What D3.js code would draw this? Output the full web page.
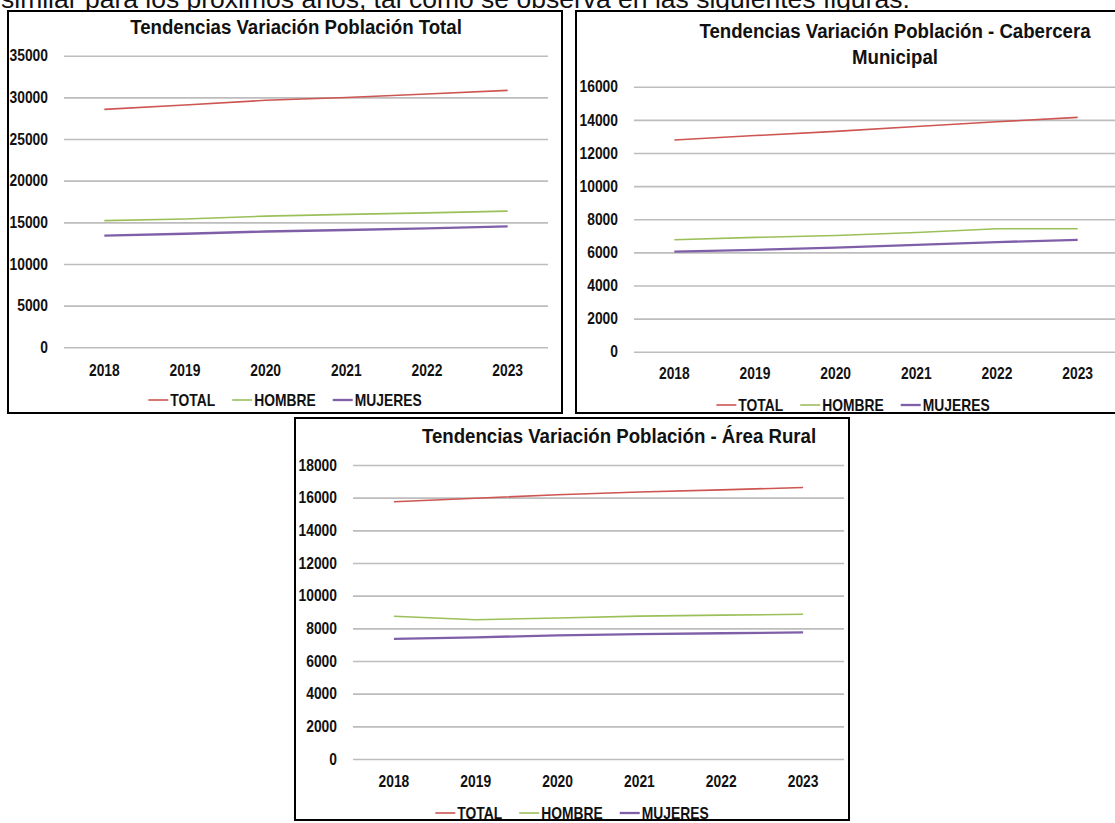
<!DOCTYPE html>
<html>
<head>
<meta charset="utf-8">
<script src="https://cdn.jsdelivr.net/npm/d3@7"></script>
<style>
  body { margin: 0; background: #fff; }
  svg { display: block; font-family: "Liberation Sans", Arial, sans-serif; }
</style>
</head>
<body>
<script>
/* Data. */
const years = ["2018", "2019", "2020", "2021", "2022", "2023"]
const seriesNames = ["TOTAL", "HOMBRE", "MUJERES"]

const totalGeneral = [28560, 29080, 29650, 29980, 30400, 30840]
const hombreGeneral = [15200, 15400, 15750, 15950, 16130, 16350]
const mujeresGeneral = [13400, 13630, 13900, 14080, 14280, 14520]

const totalCabecera = [12780, 13050, 13300, 13600, 13880, 14150]
const hombreCabecera = [6760, 6900, 7020, 7200, 7420, 7420]
const mujeresCabecera = [6040, 6150, 6280, 6450, 6620, 6750]

const totalRural = [15750, 15960, 16180, 16350, 16480, 16620]
const hombreRural = [8740, 8530, 8630, 8750, 8810, 8860]
const mujeresRural = [7350, 7450, 7570, 7640, 7700, 7750]

const ticksGeneral = [0, 5000, 10000, 15000, 20000, 25000, 30000, 35000]
const ticksCabecera = [0, 2000, 4000, 6000, 8000, 10000, 12000, 14000, 16000]
const ticksRural = [0, 2000, 4000, 6000, 8000, 10000, 12000, 14000, 16000, 18000]

const titleGeneral = ["Tendencias Variación Población Total"]
const titleCabecera = ["Tendencias Variación Población - Cabercera", "Municipal"]
const titleRural = ["Tendencias Variación Población - Área Rural"]

const introText = "similar para los próximos años, tal como se observa en las siguientes figuras."

/* Styles. */
const colors = ["#cd5552", "#9bc05a", "#7f5fa8"]
const strokeWidths = [1.6, 1.6, 2.3]
const squeeze = 0.84

/* Layout of the three panels. */
const panels = [
  { title: titleGeneral, series: [totalGeneral, hombreGeneral, mujeresGeneral], ticks: ticksGeneral,
    box: [8, 11, 554, 402], x: [64, 548], y: [347.3, 55.7], titleX: 296, titleY: [27],
    labelGap: 16, xLabelY: 370, legendY: 400 },
  { title: titleCabecera, series: [totalCabecera, hombreCabecera, mujeresCabecera], ticks: ticksCabecera,
    box: [576, 11, 554, 402], x: [634, 1118], y: [351.7, 86.7], titleX: 895, titleY: [30.7, 57.3],
    labelGap: 16, xLabelY: 373, legendY: 405 },
  { title: titleRural, series: [totalRural, hombreRural, mujeresRural], ticks: ticksRural,
    box: [295, 418, 554, 402], x: [353, 844], y: [759, 465], titleX: 619, titleY: [435.7],
    labelGap: 16, xLabelY: 781.7, legendY: 813 }
]

/* Create svg-element. */
const svg = d3.select("body")
  .append("svg")
  .attr("width", 1115)
  .attr("height", 823)

/* Cut-off text line above the charts (the reference is cropped there too). */
svg.append("text")
  .attr("x", 1)
  .attr("y", 7.5)
  .attr("font-size", 26.5)
  .attr("fill", "#111")
  .text(introText)

/* Draw one panel. */
function drawPanel(p) {
  const g = svg.append("g")

  g.append("rect")
    .attr("x", p.box[0])
    .attr("y", p.box[1])
    .attr("width", p.box[2])
    .attr("height", p.box[3])
    .attr("fill", "#fff")
    .attr("stroke", "#000")
    .attr("stroke-width", 2)

  const x = d3.scaleBand().domain(years).range(p.x)
  const yMax = p.ticks[p.ticks.length - 1]
  const y = d3.scaleLinear().domain([0, yMax]).range(p.y)

  /* Gridlines and y labels. */
  const yAxis = g.append("g")
    .attr("transform", `translate(${p.x[0]},0)`)
    .call(d3.axisLeft(y)
      .tickValues(p.ticks)
      .tickFormat(d3.format("d"))
      .tickSize(-(p.x[1] - p.x[0]))
      .tickPadding(0))
  yAxis.select(".domain").remove()
  yAxis.selectAll(".tick line")
    .attr("stroke", "#bdbdbd")
    .attr("stroke-width", 1.6)
  yAxis.selectAll(".tick text")
    .attr("x", -p.labelGap / squeeze)
    .attr("transform", `scale(${squeeze},1)`)
    .attr("font-size", 16.5)
    .attr("font-weight", "bold")
    .attr("font-family", "Liberation Sans, Arial, sans-serif")
    .attr("fill", "#111")

  /* X labels. */
  const xAxis = g.append("g")
    .attr("transform", `translate(0,${p.xLabelY})`)
    .call(d3.axisBottom(x).tickSize(0).tickPadding(0))
  xAxis.select(".domain").remove()
  xAxis.selectAll(".tick text")
    .attr("y", 0)
    .attr("dy", "0.35em")
    .attr("transform", `scale(${squeeze},1)`)
    .attr("font-size", 16.5)
    .attr("font-weight", "bold")
    .attr("font-family", "Liberation Sans, Arial, sans-serif")
    .attr("fill", "#111")

  /* Lines. */
  const line = d3.line()
    .x((d, i) => x(years[i]) + x.bandwidth() / 2)
    .y(d => y(d))

  p.series.forEach((values, i) => {
    g.append("path")
      .datum(values)
      .attr("fill", "none")
      .attr("stroke", colors[i])
      .attr("stroke-width", strokeWidths[i])
      .attr("d", line)
  })

  /* Title. */
  p.title.forEach((t, i) => {
    g.append("text")
      .attr("transform", `translate(${p.titleX},${p.titleY[i]}) scale(0.91,1)`)
      .attr("text-anchor", "middle")
      .attr("dy", "0.35em")
      .attr("font-size", 20.5)
      .attr("font-weight", "bold")
      .attr("fill", "#111")
      .text(t)
  })

  /* Legend, centred on the box. */
  const legend = g.append("g")
  let cursor = 0
  seriesNames.forEach((name, i) => {
    const item = legend.append("g").attr("transform", `translate(${cursor},0)`)
    item.append("line")
      .attr("x1", 0).attr("x2", 20)
      .attr("y1", 0).attr("y2", 0)
      .attr("stroke", colors[i])
      .attr("stroke-width", strokeWidths[i])
    const label = item.append("text")
      .attr("transform", `translate(22,0) scale(${squeeze},1)`)
      .attr("dy", "0.35em")
      .attr("font-size", 16.5)
      .attr("font-weight", "bold")
      .attr("fill", "#111")
      .text(name)
    cursor += 22 + label.node().getComputedTextLength() * squeeze + 17
  })
  cursor -= 17
  const cx = p.box[0] + p.box[2] / 2
  legend.attr("transform", `translate(${cx - cursor / 2},${p.legendY})`)
}

panels.forEach(drawPanel)
</script>
</body>
</html>
